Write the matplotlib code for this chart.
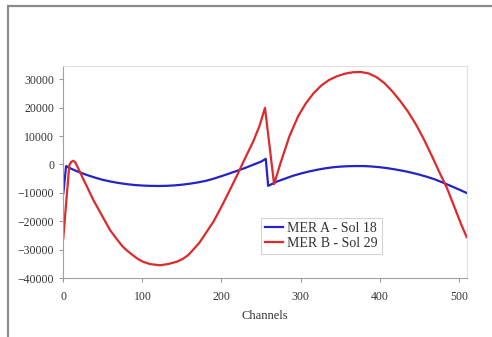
import matplotlib
matplotlib.use('Agg')
import matplotlib.pyplot as plt
from matplotlib.patches import Rectangle

# -------------------------------------------------------------------------------------
# Data
chan_a = [0, 3.5, 10, 20, 30, 40, 50, 60, 70, 80, 90, 100, 110, 120, 130, 140,
          150, 160, 170, 180, 190, 200, 210, 220, 230, 240, 250, 256,
          259, 265, 270, 280, 290, 300, 310, 320, 330, 340, 350, 360, 370,
          380, 390, 400, 410, 420, 430, 440, 450, 460, 470, 480, 490, 500, 510]
mer_a = [-10150, -560, -1500, -2700, -3700, -4600, -5400, -6000, -6500, -6900,
         -7200, -7400, -7500, -7550, -7500, -7350, -7100, -6750, -6300, -5750,
         -5000, -4100, -3150, -2200, -1200, -100, 1000, 2000,
         -7500, -6700, -6000, -5000, -4000, -3200, -2500, -1900, -1400, -1000,
         -750, -600, -550, -560, -700, -950, -1300, -1750, -2250, -2850, -3550,
         -4350, -5250, -6350, -7550, -8750, -10000]

chan_b = [0, 4, 7.6, 10, 12.6, 15, 20, 25, 30, 38, 46, 52, 59, 67, 75, 80, 88,
          95, 101, 110, 122, 132, 143, 151, 158, 164, 172, 180, 190, 200, 210,
          220, 230, 240, 248, 255,
          266.5, 275, 286, 297, 306, 316, 326, 336, 346, 356, 366, 376, 386,
          396, 406, 416, 426, 436, 446, 456, 466, 476, 485, 496, 503, 510]
mer_b = [-25950, -12000, -200, 900, 1300, 800, -2000, -5000, -7800, -12500,
         -16500, -19500, -23000, -26000, -28800, -30100, -31900, -33300, -34200,
         -35000, -35400, -35000, -34200, -33200, -31800, -30000, -27500, -24200,
         -20000, -14800, -9300, -3600, 2300, 8000, 13500, 19900,
         -6900, 800, 10000, 17000, 21200, 24900, 27700, 29700, 31000, 31900, 32400,
         32500, 32000, 30700, 28600, 25700, 22300, 18500, 14000, 8800, 3000,
         -3000, -8200, -16000, -21000, -25500]

x_ticks = [0, 100, 200, 300, 400, 500]
y_ticks = [-40000, -30000, -20000, -10000, 0, 10000, 20000, 30000]
# -------------------------------------------------------------------------------------

plt.rcParams['font.family'] = ['Liberation Serif', 'DejaVu Serif']

fig = plt.figure(figsize=(4.92, 3.37), dpi=100)
fig.patch.set_facecolor('white')

# outer chart frame (cut by the image edges on right and bottom)
fig.patches.append(Rectangle((8 / 492, -0.1), 1.2, 1.1 - 6 / 337,
                             transform=fig.transFigure, fill=False,
                             edgecolor='#8a8a8a', linewidth=1.6))

ax = fig.add_axes([0.1287, 0.174, 0.8198, 0.631])
ax.plot(chan_a, mer_a, color='#2323c8', linewidth=1.6, label='MER A - Sol 18')
ax.plot(chan_b, mer_b, color='#dd2a2a', linewidth=1.6, label='MER B - Sol 29')

ax.set_xlim(0, 510)
ax.set_ylim(-40000, 34700)
ax.set_xticks(x_ticks)
ax.set_yticks(y_ticks)
ax.tick_params(axis='both', labelsize=8.5, colors='#9a9a9a', labelcolor='#333333',
               length=3, width=0.8)
ax.tick_params(axis='x', pad=6)

for side in ['top', 'right']:
    ax.spines[side].set_color('#e0e0e0')
for side in ['left', 'bottom']:
    ax.spines[side].set_color('#a0a0a0')

ax.set_xlabel('Channels', fontsize=9, color='#333333', labelpad=5)

leg = ax.legend(loc='upper left', bbox_to_anchor=(0.49, 0.285), fontsize=10,
                frameon=True, fancybox=False, handlelength=1.3, handletextpad=0.3,
                borderpad=0.3, labelspacing=0.15, borderaxespad=0)
leg.get_frame().set_edgecolor('#c8c8c8')
leg.get_frame().set_linewidth(0.8)
for t in leg.get_texts():
    t.set_color('#333333')

fig.savefig('out.png', dpi=100)
